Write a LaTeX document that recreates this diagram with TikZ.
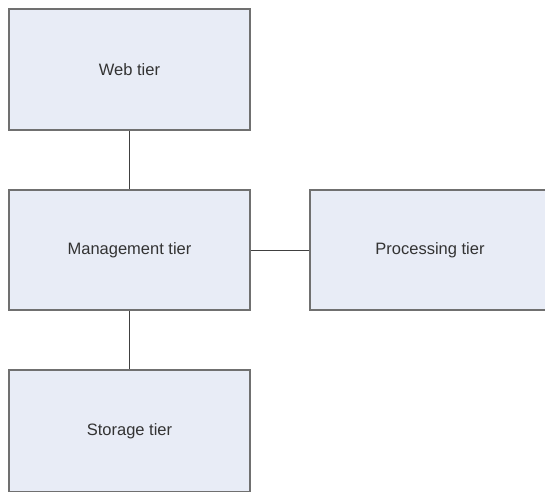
\documentclass[tikz,border=0pt]{standalone}
\usepackage{fontspec}
\setmainfont{Liberation Sans}
\usepackage{tikz}
\definecolor{tierfill}{RGB}{232,236,246}
\definecolor{tierline}{RGB}{112,112,112}
\definecolor{linkline}{RGB}{64,64,64}

\tikzset{
  tier/.style={rectangle, draw=tierline, line width=1.5pt, fill=tierfill, font=\fontsize{16.5}{19}\selectfont, text=black!80},
  link/.style={draw=linkline, line width=1pt}
}

\begin{document}
\begin{tikzpicture}[x=1pt, y=-1pt]
	\useasboundingbox (0,0) rectangle (545,491);
	\clip (0,0) rectangle (545,491);
	\fill[white] (0,0) rectangle (545,491);

	\node[tier, minimum width=241pt, minimum height=121pt] (web) at (129.5,69.5) {Web tier};
	\node[tier, minimum width=241pt, minimum height=120pt] (mgmt) at (129.5,250) {Management tier};
	\node[tier, minimum width=240pt, minimum height=120pt] (proc) at (430,250) {Processing tier};
	\node[tier, minimum width=241pt, minimum height=122pt] (store) at (129.5,431) {Storage tier};

	% links between the tiers
	\draw[link](web) -- (mgmt);
	\draw[link](mgmt) -- (proc);
	\draw[link](mgmt) -- (store);
\end{tikzpicture}
\end{document}
